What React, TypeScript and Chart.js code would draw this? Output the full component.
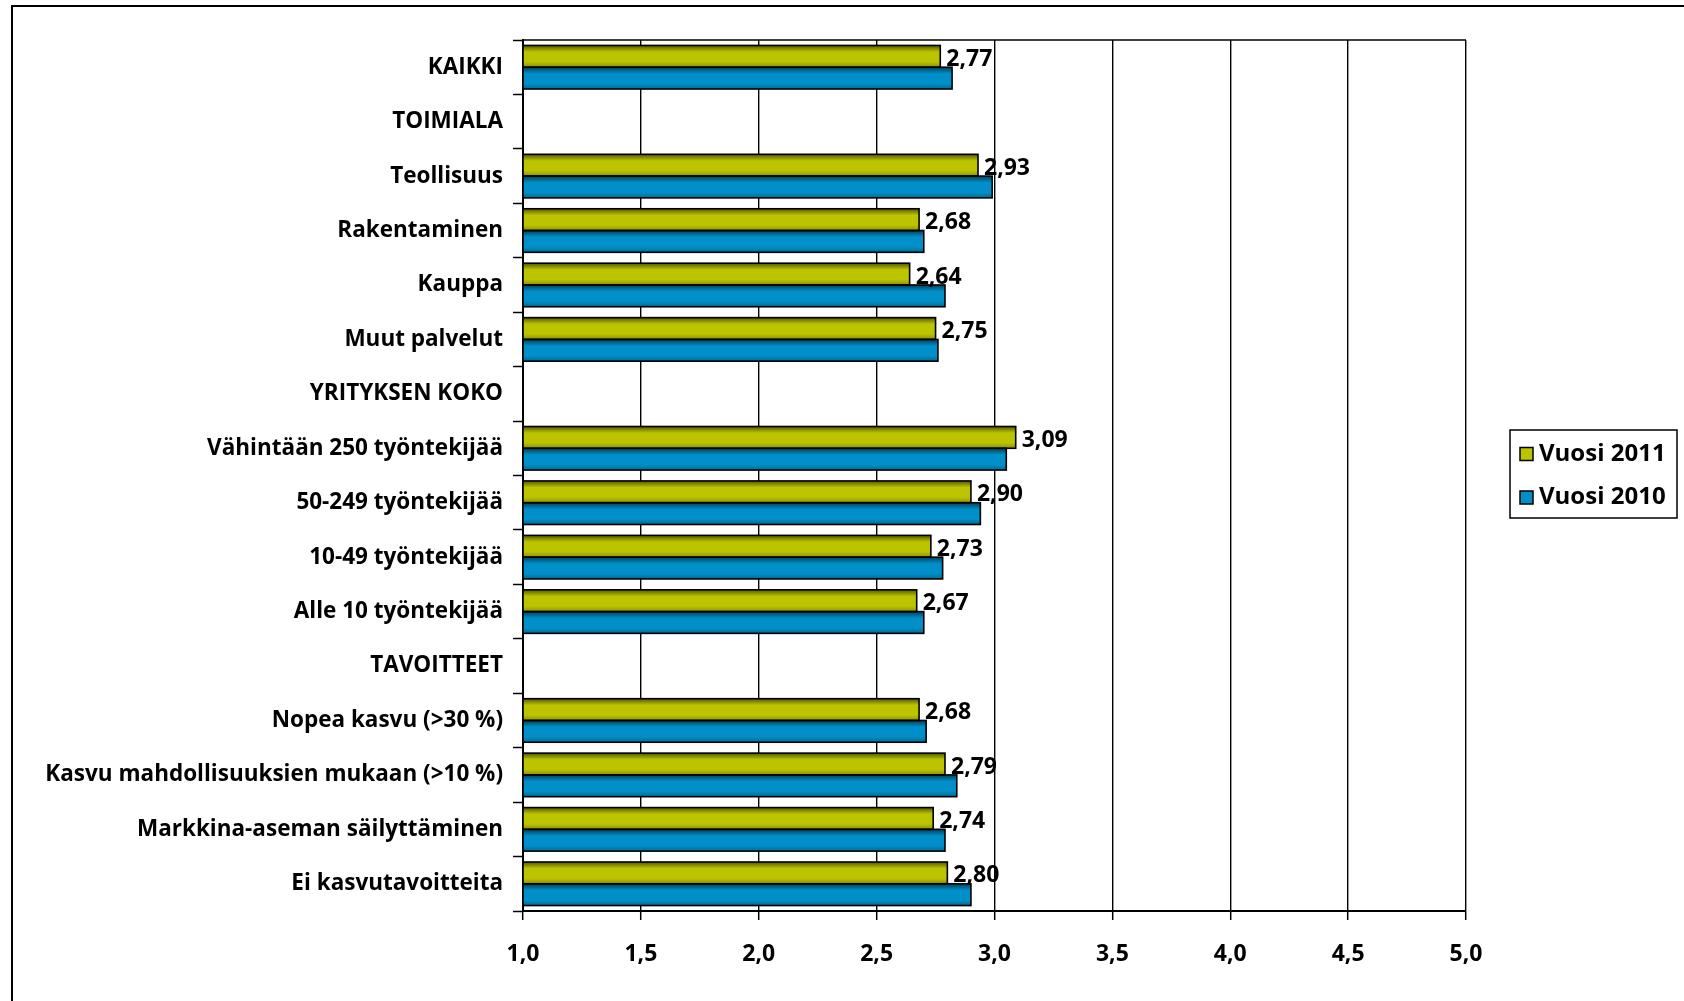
import React, { useEffect, useRef } from "react";
import { Chart, registerables } from "chart.js";

Chart.register(...registerables);

const categories = [
  "KAIKKI",
  "TOIMIALA",
  "Teollisuus",
  "Rakentaminen",
  "Kauppa",
  "Muut palvelut",
  "YRITYKSEN KOKO",
  "Vähintään 250 työntekijää",
  "50-249 työntekijää",
  "10-49 työntekijää",
  "Alle 10 työntekijää",
  "TAVOITTEET",
  "Nopea kasvu (>30 %)",
  "Kasvu mahdollisuuksien mukaan (>10 %)",
  "Markkina-aseman säilyttäminen",
  "Ei kasvutavoitteita",
];

const vuosi2011: (number | null)[] = [2.77, null, 2.93, 2.68, 2.64, 2.75, null, 3.09, 2.9, 2.73, 2.67, null, 2.68, 2.79, 2.74, 2.8];
const vuosi2010: (number | null)[] = [2.82, null, 2.99, 2.7, 2.79, 2.76, null, 3.05, 2.94, 2.78, 2.7, null, 2.71, 2.84, 2.79, 2.9];

const seriesLabels = ["Vuosi 2011", "Vuosi 2010"];
const seriesColors = ["#BCC400", "#008FC8"];

const xMin = 1;
const xMax = 5;
const xStep = 0.5;

const FONT = "'Open Sans'";

const fmt = (v: number, d: number) => v.toFixed(d).replace(".", ",");

const framePlugin = {
  id: "frame",
  beforeDraw(chart: any) {
    const ctx = chart.ctx;
    ctx.save();
    ctx.fillStyle = "#fff";
    ctx.fillRect(0, 0, chart.width, chart.height);
    ctx.strokeStyle = "#000";
    ctx.lineWidth = 2;
    ctx.beginPath();
    ctx.moveTo(12, chart.height + 5);
    ctx.lineTo(12, 6);
    ctx.lineTo(chart.width + 5, 6);
    ctx.stroke();
    ctx.restore();
  },
  afterDatasetsDraw(chart: any) {
    const ctx = chart.ctx;
    const a = chart.chartArea;
    chart.data.datasets.forEach((ds: any, di: number) => {
      const meta = chart.getDatasetMeta(di);
      meta.data.forEach((el: any, i: number) => {
        if (ds.data[i] == null) return;
        const p = el.getProps(["x", "y", "base", "height"], true);
        const base = Math.max(p.base, a.left);
        const top = p.y - p.height / 2;
        const g = ctx.createLinearGradient(0, top, 0, top + p.height);
        g.addColorStop(0, "rgba(0,0,0,0.55)");
        g.addColorStop(0.3, "rgba(0,0,0,0.0)");
        g.addColorStop(0.75, "rgba(0,0,0,0.0)");
        g.addColorStop(1, "rgba(0,0,0,0.25)");
        ctx.save();
        ctx.fillStyle = g;
        ctx.fillRect(base, top, p.x - base, p.height);
        ctx.strokeStyle = "#000";
        ctx.lineWidth = 1.6;
        ctx.strokeRect(base, top, p.x - base, p.height);
        ctx.restore();
      });
    });
    ctx.save();
    ctx.strokeStyle = "#000";
    ctx.lineWidth = 1.5;
    ctx.beginPath();
    ctx.moveTo(a.left, a.top);
    ctx.lineTo(a.right, a.top);
    ctx.stroke();
    const meta0 = chart.getDatasetMeta(0);
    ctx.fillStyle = "#000";
    ctx.font = `bold 23px ${FONT}`;
    ctx.textAlign = "left";
    ctx.textBaseline = "middle";
    meta0.data.forEach((el: any, i: number) => {
      const v = chart.data.datasets[0].data[i];
      if (v == null) return;
      const p = el.getProps(["x", "y"], true);
      ctx.fillText(fmt(v, 2), p.x + 6, p.y + 3);
    });
    ctx.restore();
  },
  afterDraw(chart: any) {
    const ctx = chart.ctx;
    ctx.save();
    const bx = 1510, by = 430, bw = 167, bh = 88;
    ctx.strokeStyle = "#000";
    ctx.lineWidth = 1.5;
    ctx.strokeRect(bx, by, bw, bh);
    ctx.font = `bold 24px ${FONT}`;
    ctx.textBaseline = "middle";
    ctx.textAlign = "left";
    chart.data.datasets.forEach((ds: any, i: number) => {
      const cy = by + 24 + i * 43.5;
      ctx.fillStyle = ds.backgroundColor;
      ctx.fillRect(bx + 10, cy - 6.5, 13, 13);
      ctx.strokeStyle = "#000";
      ctx.lineWidth = 1.5;
      ctx.strokeRect(bx + 10, cy - 6.5, 13, 13);
      ctx.fillStyle = "#000";
      ctx.fillText(ds.label, bx + 29, cy);
    });
    ctx.restore();
  },
};

export default function App() {
  const ref = useRef<HTMLCanvasElement>(null);
  useEffect(() => {
    document.body.style.margin = "0";
    const chart = new Chart(ref.current!, {
      type: "bar",
      data: {
        labels: categories,
        datasets: [
          {
            label: seriesLabels[0],
            data: vuosi2011,
            backgroundColor: seriesColors[0],
            borderColor: "#000",
            borderWidth: 0,
          },
          {
            label: seriesLabels[1],
            data: vuosi2010,
            backgroundColor: seriesColors[1],
            borderColor: "#000",
            borderWidth: 0,
          },
        ],
      },
      options: {
        indexAxis: "y",
        responsive: false,
        animation: false,
        devicePixelRatio: 1,
        layout: { padding: { top: 40, right: 218, bottom: 0, left: 0 } },
        datasets: { bar: { categoryPercentage: 0.8, barPercentage: 1.0 } },
        plugins: {
          legend: { display: false },
          tooltip: { enabled: false },
        },
        scales: {
          x: {
            min: xMin,
            max: xMax,
            ticks: {
              stepSize: xStep,
              color: "#000",
              font: { family: FONT, weight: "bold", size: 23 },
              padding: 21,
              callback: (v: any) => fmt(Number(v), 1),
            },
            grid: {
              color: "#000",
              lineWidth: 1.4,
              tickLength: 9,
              tickColor: "#000",
              tickWidth: 1.5,
            },
            border: { color: "#000", width: 2 },
            afterFit: (s: any) => {
              s.height = 90;
            },
          },
          y: {
            ticks: {
              color: "#000",
              font: { family: FONT, weight: "bold", size: 22.5 },
              padding: 10,
              autoSkip: false,
            },
            grid: {
              display: true,
              drawOnChartArea: false,
              offset: true,
              tickLength: 10,
              tickColor: "#000",
              tickWidth: 1.5,
            },
            border: { color: "#000", width: 2 },
            afterFit: (s: any) => {
              s.width = 523;
            },
          },
        },
      },
      plugins: [framePlugin],
    } as any);
    return () => chart.destroy();
  }, []);
  return (
    <div style={{ width: 1684, height: 1001 }}>
      <canvas ref={ref} width={1684} height={1001} />
    </div>
  );
}
